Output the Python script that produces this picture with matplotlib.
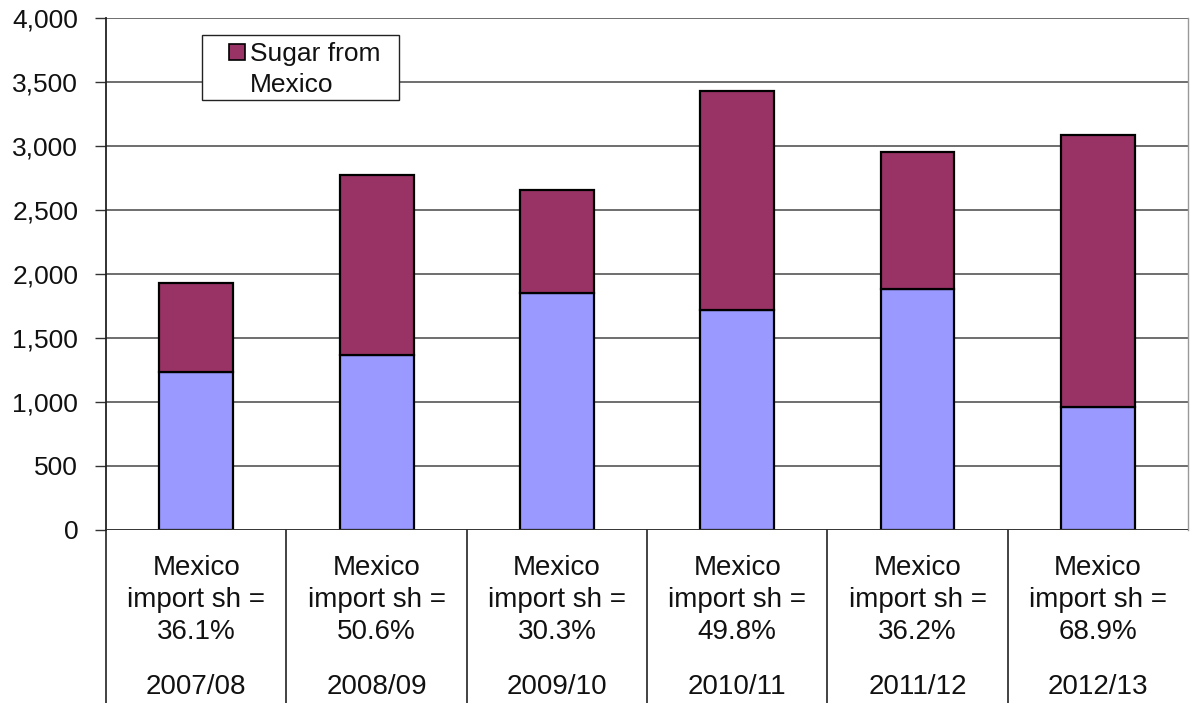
import matplotlib
matplotlib.use("Agg")
import matplotlib.pyplot as plt
from matplotlib.patches import Rectangle
from matplotlib.transforms import blended_transform_factory

plt.rcParams['font.family'] = ['Liberation Sans', 'DejaVu Sans']

years = ["2007/08", "2008/09", "2009/10", "2010/11", "2011/12", "2012/13"]
other_sugar = [1232, 1368, 1851, 1720, 1882, 960]
mexico_sugar = [695, 1402, 806, 1707, 1069, 2128]
mexico_share = ["36.1%", "50.6%", "30.3%", "49.8%", "36.2%", "68.9%"]
y_ticks = [0, 500, 1000, 1500, 2000, 2500, 3000, 3500, 4000]

BLUE = "#9999FF"
MAROON = "#993366"
TEXT = "#111111"

fig = plt.figure(figsize=(11.93, 7.03), dpi=100)
ax = fig.add_axes([0.0889, 0.2461, 0.9069, 0.7283])

x = list(range(len(years)))
ax.bar(x, other_sugar, width=0.41, color=BLUE, edgecolor="black", linewidth=1.6, zorder=3)
ax.bar(x, mexico_sugar, width=0.41, bottom=other_sugar, color=MAROON,
       edgecolor="black", linewidth=1.6, zorder=3)

ax.set_xlim(-0.5, len(years) - 0.5)
ax.set_ylim(0, 4000)
ax.set_yticks(y_ticks)
ax.set_yticklabels([f"{v:,}" for v in y_ticks], fontsize=19, color=TEXT)
ax.tick_params(axis="y", direction="out", length=8, width=1, pad=12, color="#333333")
ax.set_xticks([])
ax.yaxis.grid(True, color="#555555", linewidth=1.2, zorder=0)
ax.set_axisbelow(True)

for side in ["top", "bottom"]:
    ax.spines[side].set_visible(False)
ax.spines["left"].set_color("#222222")
ax.spines["left"].set_linewidth(1.3)
ax.spines["right"].set_color("#999999")
ax.spines["right"].set_linewidth(1.0)
ax.axhline(0, color="#333333", linewidth=1.3, zorder=4)

# Two-level category axis: share text and season, separated by vertical rules
trans = blended_transform_factory(ax.transData, ax.transAxes)
for i in range(len(years)):
    ax.plot([i - 0.5, i - 0.5], [0, -0.36], transform=trans, color="#222222",
            linewidth=1.2, clip_on=False)
for i, (yr, sh) in enumerate(zip(years, mexico_share)):
    ax.text(i, -0.137, f"Mexico\nimport sh =\n{sh}", transform=trans, ha="center",
            va="center", fontsize=20, linespacing=1.3, color=TEXT)
    ax.text(i, -0.307, yr, transform=trans, ha="center", va="center",
            fontsize=20, color=TEXT)

# Legend box for the Mexico series
ax.add_patch(Rectangle((0.0887, 0.8398), 0.1821, 0.127, transform=ax.transAxes,
                       facecolor="white", edgecolor="#222222", linewidth=1.0,
                       zorder=5))
ax.add_patch(Rectangle((0.1137, 0.918), 0.0148, 0.031, transform=ax.transAxes,
                       facecolor=MAROON, edgecolor="black", linewidth=1.2,
                       zorder=6))
ax.text(0.1331, (530 - 61) / 512, "Sugar from", transform=ax.transAxes,
        ha="left", va="baseline", fontsize=19, color=TEXT, zorder=7)
ax.text(0.1331, (530 - 92) / 512, "Mexico", transform=ax.transAxes,
        ha="left", va="baseline", fontsize=19, color=TEXT, zorder=7)

fig.savefig("out.png", dpi=100)
